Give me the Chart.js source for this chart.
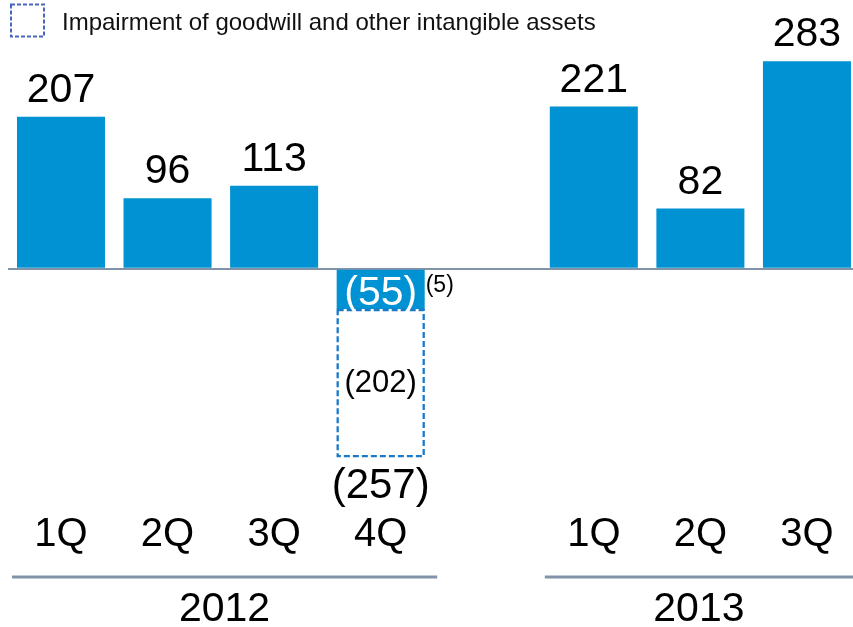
<!DOCTYPE html>
<html>
<head>
<meta charset="utf-8">
<script src="https://cdn.jsdelivr.net/npm/chart.js@4.4.1/dist/chart.umd.min.js"></script>
<style>
  html, body { margin: 0; padding: 0; background: #fff; overflow: hidden; }
  #wrap { width: 853px; height: 627px; position: relative; }
</style>
</head>
<body>
<div id="wrap"><canvas id="chart"></canvas></div>
<script>
// ── data ──
const quarterLabels = ['1Q', '2Q', '3Q', '4Q', '', '1Q', '2Q', '3Q'];
const netIncome     = [207, 96, 113, -55, null, 221, 82, 283];
const impairment    = [null, null, null, -202, null, null, null, null];
const footnotes     = [null, null, null, '(5)', null, null, null, null];
const years         = ['2012', '2013'];
const yearSlots     = [[0, 3], [5, 7]];
const legendText    = 'Impairment of goodwill and other intangible assets';

// ── styles ──
const FONT = '"Liberation Sans", Arial, sans-serif';
const BLUE = '#0092d2';
const DASH_BLUE = '#1a7ac8';
const AXIS_GRAY = '#8194a7';

const fmt = v => v < 0 ? `(${-v})` : `${v}`;

const overlay = {
    id: 'overlay',
    afterDraw(chart) {
        const ctx = chart.ctx;
        const xs = chart.scales.x;
        const main = chart.getDatasetMeta(0).data;
        const imp = chart.getDatasetMeta(1).data;
        ctx.save();

        // legend
        ctx.setLineDash([4, 2]);
        ctx.lineWidth = 2;
        ctx.strokeStyle = '#4866bf';
        ctx.strokeRect(11, 4.5, 33, 32);
        ctx.setLineDash([]);
        ctx.fillStyle = '#111';
        ctx.font = `24px ${FONT}`;
        ctx.textAlign = 'left';
        ctx.textBaseline = 'middle';
        ctx.fillText(legendText, 62, 23);

        // dashed impairment boxes + labels
        imp.forEach((bar, i) => {
            if (impairment[i] == null) return;
            const p = bar.getProps(['x', 'y', 'base', 'width'], true);
            const top = Math.min(p.y, p.base), bot = Math.max(p.y, p.base);
            ctx.setLineDash([6, 3]);
            ctx.lineWidth = 2.3;
            ctx.strokeStyle = DASH_BLUE;
            ctx.strokeRect(p.x - p.width / 2 + 1, top + 1, p.width - 2, bot - top - 2);
            ctx.setLineDash([]);
            ctx.fillStyle = '#000';
            ctx.font = `31px ${FONT}`;
            ctx.textAlign = 'center';
            ctx.textBaseline = 'middle';
            ctx.fillText(fmt(impairment[i]), p.x, (top + bot) / 2);
            // total below
            ctx.font = `42px ${FONT}`;
            ctx.textBaseline = 'alphabetic';
            ctx.fillText(fmt(impairment[i] + netIncome[i]), p.x, bot + 41);
        });

        // value labels
        main.forEach((bar, i) => {
            const v = netIncome[i];
            if (v == null) return;
            const p = bar.getProps(['x', 'y', 'base', 'width'], true);
            ctx.textAlign = 'center';
            ctx.textBaseline = 'alphabetic';
            ctx.font = `41px ${FONT}`;
            if (v >= 0) {
                ctx.fillStyle = '#000';
                ctx.fillText(fmt(v), p.x, p.y - 15);
            } else {
                ctx.fillStyle = '#fff';
                ctx.fillText(fmt(v), p.x, p.y - 4);
            }
            if (footnotes[i]) {
                ctx.fillStyle = '#000';
                ctx.font = `23px ${FONT}`;
                ctx.textAlign = 'left';
                ctx.fillText(footnotes[i], p.x + p.width / 2 + 1, p.base + 22);
            }
        });

        // year brackets
        ctx.strokeStyle = AXIS_GRAY;
        ctx.lineWidth = 3;
        ctx.fillStyle = '#000';
        ctx.font = `41px ${FONT}`;
        ctx.textAlign = 'center';
        ctx.textBaseline = 'middle';
        years.forEach((y, k) => {
            const x0 = xs.getPixelForValue(yearSlots[k][0] - 0.46);
            const x1 = xs.getPixelForValue(yearSlots[k][1] + 0.53);
            ctx.beginPath();
            ctx.moveTo(x0, 577);
            ctx.lineTo(x1, 577);
            ctx.stroke();
            ctx.fillText(y, (x0 + Math.min(x1, chart.width)) / 2, 610);
        });
        ctx.restore();
    }
};

const slots = quarterLabels.map((_, i) => i);

new Chart(document.getElementById('chart'), {
    type: 'bar',
    data: {
        datasets: [
            {
                label: 'Net income',
                data: slots.map(i => ({ x: i, y: netIncome[i] })),
                backgroundColor: BLUE,
                borderWidth: 0,
                categoryPercentage: 1,
                barPercentage: 0.826
            },
            {
                label: legendText,
                data: slots.map(i => ({ x: i, y: impairment[i] })),
                backgroundColor: 'rgba(0,0,0,0)',
                borderWidth: 0,
                categoryPercentage: 1,
                barPercentage: 0.826
            }
        ]
    },
    options: {
        responsive: true,
        maintainAspectRatio: false,
        animation: false,
        layout: { padding: { left: 7.7, right: 0, top: 45, bottom: 0 } },
        plugins: {
            legend: { display: false },
            tooltip: { enabled: false }
        },
        scales: {
            x: {
                type: 'linear',
                stacked: true,
                offset: false,
                min: -0.5,
                max: 7.432,
                grid: { display: false },
                border: { display: false },
                ticks: {
                    stepSize: 1,
                    includeBounds: false,
                    autoSkip: false,
                    maxRotation: 0,
                    padding: 18,
                    color: '#000',
                    font: { family: FONT, size: 40 },
                    callback: v => quarterLabels[v] ?? ''
                },
                afterFit(scale) {
                    scale.height = 142;
                    scale.paddingLeft = 0;
                    scale.paddingRight = 0;
                }
            },
            y: {
                stacked: true,
                min: -295,
                max: 305,
                z: 1,
                ticks: { display: false },
                afterBuildTicks(scale) { scale.ticks = [{ value: 0 }]; },
                border: { display: false },
                grid: {
                    drawTicks: false,
                    lineWidth: 2,
                    color: AXIS_GRAY
                }
            }
        }
    },
    plugins: [overlay]
});
</script>
</body>
</html>
